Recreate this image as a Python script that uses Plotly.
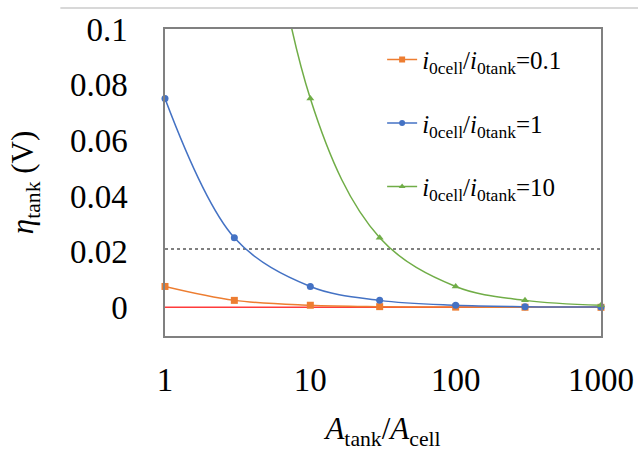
import plotly.graph_objects as go

# Data
area_ratio = [1, 3, 10, 30, 100, 300, 1000]
eta_ratio_0_1 = [0.0075, 0.0025, 0.00075, 0.00025, 0.000075, 0.000025, 0.0000075]
eta_ratio_1 = [0.075, 0.025, 0.0075, 0.0025, 0.00075, 0.00025, 0.000075]
eta_ratio_10 = [0.75, 0.25, 0.075, 0.025, 0.0075, 0.0025, 0.00075]
threshold = 0.021
x_tick_vals = [1, 10, 100, 1000]
x_tick_text = ["1", "10", "100", "1000"]
y_tick_vals = [0, 0.02, 0.04, 0.06, 0.08, 0.1]
y_tick_text = ["0", "0.02", "0.04", "0.06", "0.08", "0.1"]

series = [
    ("<i>i</i><sub>0cell</sub>/<i>i</i><sub>0tank</sub>=0.1", eta_ratio_0_1, "#ED7D31", "square"),
    ("<i>i</i><sub>0cell</sub>/<i>i</i><sub>0tank</sub>=1", eta_ratio_1, "#4472C4", "circle"),
    ("<i>i</i><sub>0cell</sub>/<i>i</i><sub>0tank</sub>=10", eta_ratio_10, "#70AD47", "triangle-up"),
]

YMAX = 0.1
YMIN = -0.0103
FONT = "Liberation Serif"

fig = go.Figure()

# zero line and threshold line
fig.add_trace(go.Scatter(x=[area_ratio[0], area_ratio[-1]], y=[0, 0], mode="lines",
                         line=dict(color="#FF3B3B", width=1.5), showlegend=False, hoverinfo="skip"))
fig.add_trace(go.Scatter(x=[area_ratio[0], area_ratio[-1]], y=[threshold, threshold], mode="lines",
                         line=dict(color="#808080", width=2, dash="dot"), showlegend=False, hoverinfo="skip"))

for name, vals, color, sym in series:
    fig.add_trace(go.Scatter(x=area_ratio, y=vals, mode="lines", line=dict(color=color, width=1.5, shape="spline", smoothing=1.0),
                             showlegend=False, hoverinfo="skip"))
    xs = [x for x, v in zip(area_ratio, vals) if v <= YMAX]
    ys = [v for v in vals if v <= YMAX]
    fig.add_trace(go.Scatter(x=xs, y=ys, mode="markers", marker=dict(color=color, symbol=sym, size=7),
                             cliponaxis=False, showlegend=False))

for i, (name, vals, color, sym) in enumerate(series):
    fig.add_trace(go.Scatter(x=[None], y=[None], mode="lines+markers", name=name,
                             line=dict(color=color, width=1.5), marker=dict(color=color, symbol=sym, size=6),
                             legendgroup=f"g{i}"))

fig.update_layout(
    width=638, height=451,
    margin=dict(l=165, r=37, t=29, b=115, autoexpand=False),
    paper_bgcolor="white", plot_bgcolor="white",
    font=dict(family=FONT, color="black"),
    showlegend=True,
    legend=dict(x=0.498, y=0.975, xanchor="left", yanchor="top", font=dict(family=FONT, size=25),
                bgcolor="rgba(0,0,0,0)", tracegroupgap=28, itemwidth=30),
    xaxis=dict(type="log", range=[0, 3], tickvals=x_tick_vals, ticktext=x_tick_text,
               tickfont=dict(size=33), showgrid=False, zeroline=False,
               showline=True, linecolor="#808080", linewidth=1.5, mirror=True,
               ticks="", ticklabelstandoff=14, automargin=False,
               title=dict(text="<i>A</i><sub>tank</sub>/<i>A</i><sub>cell</sub>", font=dict(size=31), standoff=22)),
    yaxis=dict(range=[YMIN, YMAX], tickvals=y_tick_vals, ticktext=y_tick_text,
               tickfont=dict(size=33), showgrid=False, zeroline=False,
               showline=True, linecolor="#808080", linewidth=1.5, mirror=True,
               ticks="", ticklabelstandoff=29, automargin=False,
               title=dict(text="<i>η</i><sub>tank</sub> (V)", font=dict(size=31), standoff=27)),
)

fig.add_shape(type="line", xref="paper", yref="paper", x0=-0.24, x1=1.1, y0=1.068, y1=1.068,
              line=dict(color="#D8D8D8", width=2))

fig.write_html("out.html")
